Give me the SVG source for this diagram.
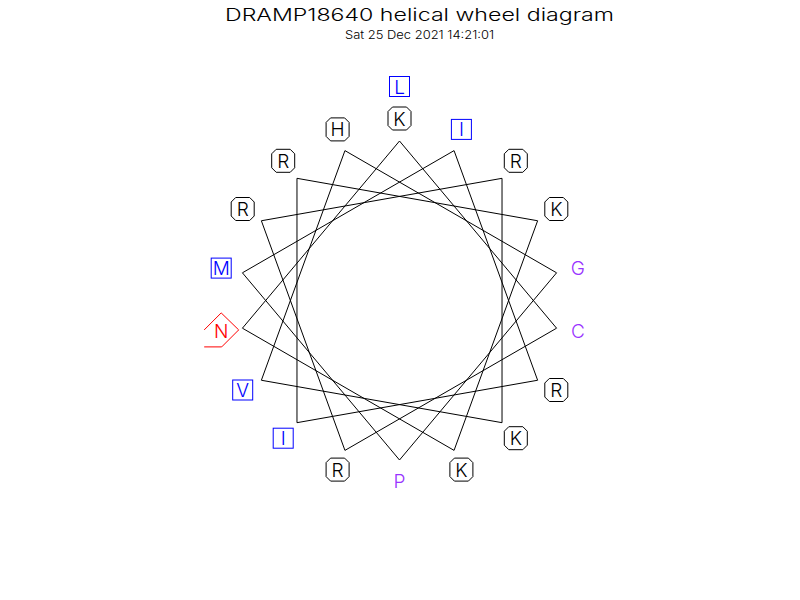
<svg xmlns="http://www.w3.org/2000/svg" width="800" height="600" viewBox="0 0 800 600">
<defs>
<style>
.t{font-family:Inter,"Liberation Sans","DejaVu Sans",sans-serif;font-weight:300;}
.lab{font-size:19px;text-anchor:middle;}
.blk{fill:#000;}
.blu{fill:#0000ff;}
.red{fill:#ff0000;}
.pur{fill:#9933ff;}
.oct{fill:none;stroke:#000;stroke-width:1;}
.box{fill:none;stroke:#0000ff;stroke-width:1;}
.pent{fill:none;stroke:#ff0000;stroke-width:1;}
.con line{stroke:#000;stroke-width:1;}
</style>
<polygon id="octShape" class="oct" points="-7,-11.5 7,-11.5 11.5,-7 11.5,7 7,11.5 -7,11.5 -11.5,7 -11.5,-7"/>
<rect id="boxShape" class="box" x="-10" y="-10" width="20" height="20"/>
</defs>
<rect width="800" height="600" fill="#fff"/>
<text class="t" x="419.5" y="20.5" font-size="17" text-anchor="middle" textLength="389" lengthAdjust="spacingAndGlyphs">DRAMP18640 helical wheel diagram</text>
<text class="t" x="419.5" y="39.3" font-size="12" text-anchor="middle" textLength="149" lengthAdjust="spacingAndGlyphs">Sat 25 Dec 2021 14:21:01</text>
<g id="connectors" class="con">
<line x1="399.5" y1="141" x2="556.58" y2="328.19"/>
<line x1="556.58" y1="328.19" x2="344.95" y2="450.38"/>
<line x1="344.95" y1="450.38" x2="261.37" y2="220.75"/>
<line x1="261.37" y1="220.75" x2="502.03" y2="178.32"/>
<line x1="502.03" y1="178.32" x2="502.03" y2="422.68"/>
<line x1="502.03" y1="422.68" x2="261.37" y2="380.25"/>
<line x1="261.37" y1="380.25" x2="344.95" y2="150.62"/>
<line x1="344.95" y1="150.62" x2="556.58" y2="272.81"/>
<line x1="556.58" y1="272.81" x2="399.5" y2="460"/>
<line x1="399.5" y1="460" x2="242.42" y2="272.81"/>
<line x1="242.42" y1="272.81" x2="454.05" y2="150.62"/>
<line x1="454.05" y1="150.62" x2="537.63" y2="380.25"/>
<line x1="537.63" y1="380.25" x2="296.97" y2="422.68"/>
<line x1="296.97" y1="422.68" x2="296.97" y2="178.32"/>
<line x1="296.97" y1="178.32" x2="537.63" y2="220.75"/>
<line x1="537.63" y1="220.75" x2="454.05" y2="450.38"/>
<line x1="454.05" y1="450.38" x2="242.42" y2="328.19"/>
<line x1="242.42" y1="328.19" x2="399.5" y2="141"/>
</g>
<g id="r1-K" transform="translate(399.5,118.5)"><use href="#octShape"/><text class="t lab blk" y="7">K</text></g>
<g id="r2-C" transform="translate(577.8,330.9)"><text class="t lab pur" y="7">C</text></g>
<g id="r3-R" transform="translate(337.6,469.6)"><use href="#octShape"/><text class="t lab blk" y="7">R</text></g>
<g id="r4-R" transform="translate(242.7,209)"><use href="#octShape"/><text class="t lab blk" y="7">R</text></g>
<g id="r5-R" transform="translate(515.8,160.8)"><use href="#octShape"/><text class="t lab blk" y="7">R</text></g>
<g id="r6-K" transform="translate(515.8,438.2)"><use href="#octShape"/><text class="t lab blk" y="7">K</text></g>
<g id="r7-V" transform="translate(242.7,390)"><use href="#boxShape"/><text class="t lab blu" y="7">V</text></g>
<g id="r8-H" transform="translate(337.6,129.4)"><use href="#octShape"/><text class="t lab blk" y="7">H</text></g>
<g id="r9-G" transform="translate(577.8,268.1)"><text class="t lab pur" y="7">G</text></g>
<g id="r10-P" transform="translate(399.5,480.5)"><text class="t lab pur" y="7">P</text></g>
<g id="r11-M" transform="translate(221.2,268.1)"><use href="#boxShape"/><text class="t lab blu" y="7">M</text></g>
<g id="r12-I" transform="translate(461.4,129.4)"><use href="#boxShape"/><text class="t lab blu" y="7">I</text></g>
<g id="r13-R" transform="translate(556.3,390)"><use href="#octShape"/><text class="t lab blk" y="7">R</text></g>
<g id="r14-I" transform="translate(283.2,438.2)"><use href="#boxShape"/><text class="t lab blu" y="7">I</text></g>
<g id="r15-R" transform="translate(283.2,160.8)"><use href="#octShape"/><text class="t lab blk" y="7">R</text></g>
<g id="r16-K" transform="translate(556.3,209)"><use href="#octShape"/><text class="t lab blk" y="7">K</text></g>
<g id="r17-K" transform="translate(461.4,469.6)"><use href="#octShape"/><text class="t lab blk" y="7">K</text></g>
<g id="r18-N" transform="translate(221.2,330.9)"><polyline class="pent" points="-17,-1 0,-18 17.5,-1 0.5,16 -17,16"/><text class="t lab red" y="7">N</text></g>
<g id="r19-L" transform="translate(399.5,86.5)"><use href="#boxShape"/><text class="t lab blu" y="7">L</text></g>
</svg>
